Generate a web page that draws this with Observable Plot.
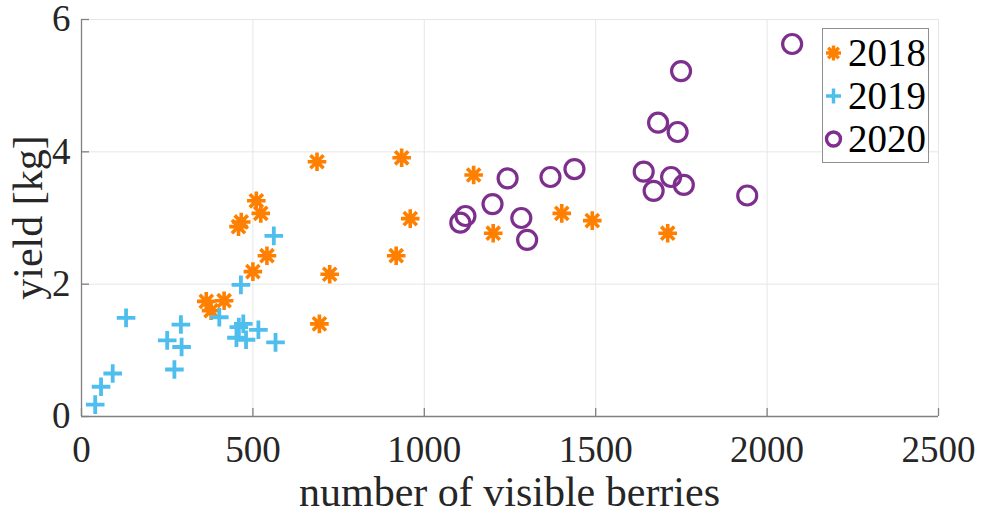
<!DOCTYPE html>
<html>
<head>
<meta charset="utf-8">
<script src="https://cdn.jsdelivr.net/npm/d3@7"></script>
<script src="https://cdn.jsdelivr.net/npm/@observablehq/plot@0.6"></script>
<style>
  html, body { margin: 0; padding: 0; background: #fff; }
  #chart svg { display: block; }
  #chart svg text { font-family: "Liberation Serif", "Times New Roman", "DejaVu Serif", serif !important; }
</style>
</head>
<body>
<div id="chart"></div>
<script>
// ---- data ----
const years = ["2018", "2019", "2020"];
const colors = ["#FF8000", "#4DBEEE", "#7E2F8E"];

const berries2018 = [687, 934, 510, 523, 458, 466, 959, 541, 500, 724, 918, 364, 416, 378, 694, 1144, 1201, 1401, 1490, 1710];
const yield2018   = [3.85, 3.91, 3.26, 3.07, 2.87, 2.94, 2.99, 2.43, 2.19, 2.15, 2.43, 1.74, 1.75, 1.60, 1.40, 3.65, 2.77, 3.07, 2.96, 2.77];

const berries2019 = [40, 57, 91, 130, 250, 290, 292, 271, 402, 465, 561, 459, 472, 452, 480, 516, 566];
const yield2019   = [0.18, 0.45, 0.65, 1.49, 1.15, 1.39, 1.05, 0.71, 1.50, 1.99, 2.73, 1.35, 1.40, 1.19, 1.16, 1.31, 1.12];

const berries2020 = [2073, 1749, 1682, 1739, 1438, 1368, 1243, 1199, 1283, 1300, 1640, 1720, 1669, 1757, 1942, 1120, 1105];
const yield2020   = [5.63, 5.22, 4.44, 4.30, 3.74, 3.62, 3.60, 3.21, 3.00, 2.67, 3.70, 3.62, 3.41, 3.50, 3.34, 3.03, 2.93];

const xTicks = [0, 500, 1000, 1500, 2000, 2500];
const yTicks = [0, 2, 4, 6];
const xLabel = "number of visible berries";
const yLabel = "yield [kg]";

// ---- build tables ----
const toRows = (xs, ys) => xs.map((x, i) => ({x, y: ys[i]}));
const d2018 = toRows(berries2018, yield2018);
const d2019 = toRows(berries2019, yield2019);
const d2020 = toRows(berries2020, yield2020);

// ---- custom MATLAB-like symbols ----
const asterisk = {
  draw(ctx, size) {
    const r = Math.sqrt(size / Math.PI);
    const d = r * Math.SQRT1_2;
    ctx.moveTo(-r, 0); ctx.lineTo(r, 0);
    ctx.moveTo(0, -r); ctx.lineTo(0, r);
    ctx.moveTo(-d, -d); ctx.lineTo(d, d);
    ctx.moveTo(-d, d); ctx.lineTo(d, -d);
  }
};
const plus = {
  draw(ctx, size) {
    const r = Math.sqrt(size / Math.PI);
    ctx.moveTo(-r, 0); ctx.lineTo(r, 0);
    ctx.moveTo(0, -r); ctx.lineTo(0, r);
  }
};
const ring = {
  draw(ctx, size) {
    const r = Math.sqrt(size / Math.PI);
    ctx.moveTo(r, 0);
    ctx.arc(0, 0, r, 0, 2 * Math.PI);
  }
};
const symbols = [asterisk, plus, ring];

const FONT = "Liberation Serif, Times New Roman, DejaVu Serif, serif";
const W = 982, H = 514;
const mL = 81, mR = 44, mT = 19, mB = 98;
const frameW = W - mL - mR, frameH = H - mT - mB;

const chart = Plot.plot({
  width: W,
  height: H,
  marginLeft: mL,
  marginRight: mR,
  marginTop: mT,
  marginBottom: mB,
  style: {fontFamily: FONT, background: "#fff", color: "#262626", overflow: "visible"},
  x: {domain: [0, 2500]},
  y: {domain: [0, 6]},
  marks: [
    Plot.gridX(xTicks, {stroke: "#e6e6e6", strokeOpacity: 1}),
    Plot.gridY(yTicks, {stroke: "#e6e6e6", strokeOpacity: 1}),
    Plot.ruleX([0], {stroke: "#808080", strokeWidth: 1.3}),
    Plot.ruleY([0], {stroke: "#808080", strokeWidth: 1.3}),
    Plot.tickX(xTicks, {x: d => d, stroke: "#808080", strokeWidth: 1.3, insetTop: frameH - 8}),
    Plot.tickY(yTicks, {y: d => d, stroke: "#808080", strokeWidth: 1.3, insetRight: frameW - 8}),
    Plot.axisX({ticks: xTicks, tickSize: 0, tickPadding: 19, fontSize: 37, label: null, tickFormat: d => String(d), fill: "#262626"}),
    Plot.axisY({ticks: yTicks, tickSize: 0, tickPadding: 11, fontSize: 37, label: null, tickFormat: d => String(d), fill: "#262626"}),
    Plot.dot(d2018, {x: "x", y: "y", symbol: asterisk, r: 9.3, fill: "none", stroke: colors[0], strokeWidth: 3.6}),
    Plot.dot(d2019, {x: "x", y: "y", symbol: plus, r: 9.3, fill: "none", stroke: colors[1], strokeWidth: 3.8}),
    Plot.dot(d2020, {x: "x", y: "y", symbol: ring, r: 9.5, fill: "none", stroke: colors[2], strokeWidth: 3.2})
  ]
});

document.getElementById("chart").appendChild(chart);

// ---- axis titles ----
const svg = d3.select(chart);
svg.append("text")
  .attr("x", mL + frameW / 2)
  .attr("y", 506)
  .attr("text-anchor", "middle")
  .attr("font-family", FONT)
  .attr("font-size", 42)
  .attr("fill", "#262626")
  .text(xLabel);

svg.append("text")
  .attr("transform", `translate(42,${mT + frameH / 2}) rotate(-90)`)
  .attr("text-anchor", "middle")
  .attr("font-family", FONT)
  .attr("font-size", 42)
  .attr("fill", "#262626")
  .text(yLabel);

// ---- legend (inside top-right of the frame) ----
const lg = svg.append("g");
const lgX = mL + frameW - 115.5, lgY = mT + 9.5, lgW = 106, lgH = 134;
lg.append("rect")
  .attr("x", lgX).attr("y", lgY).attr("width", lgW).attr("height", lgH)
  .attr("fill", "#fff").attr("stroke", "#8f8f8f").attr("stroke-width", 1);
const lgRadii = [7.5, 7.5, 7];
years.forEach((yr, i) => {
  const cy = lgY + 24.5 + i * 43;
  lg.append("path")
    .attr("transform", `translate(${lgX + 11},${cy})`)
    .attr("d", d3.symbol().type(symbols[i]).size(Math.PI * lgRadii[i] * lgRadii[i])())
    .attr("fill", "none")
    .attr("stroke", colors[i])
    .attr("stroke-width", 3.4);
  lg.append("text")
    .attr("x", lgX + 25.5)
    .attr("y", cy + 13)
    .attr("text-anchor", "start")
    .attr("font-family", FONT)
    .attr("font-size", 39)
    .attr("fill", "#000")
    .text(yr);
});
</script>
</body>
</html>
